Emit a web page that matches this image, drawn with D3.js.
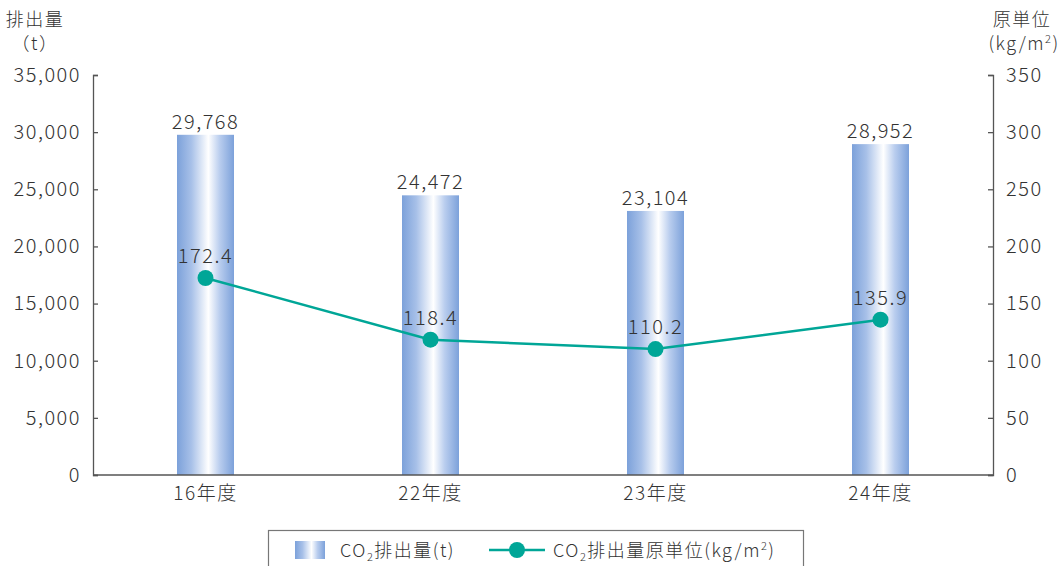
<!DOCTYPE html>
<html>
<head>
<meta charset="utf-8">
<script src="https://cdn.jsdelivr.net/npm/d3@7"></script>
<style>
  html, body { margin: 0; padding: 0; background: #fff; }
  svg text { font-family: "Noto Sans CJK JP", "Noto Sans", sans-serif; font-weight: 300; fill: #333; letter-spacing: 1.5px; }
</style>
</head>
<body>
<svg id="chart" width="1061" height="566"></svg>
<script>
// Fiscal years
const categories = ["16年度", "22年度", "23年度", "24年度"];
// CO2 emissions (t)
const emissions = [29768, 24472, 23104, 28952];
// Emission intensity (kg/m2)
const intensity = [172.4, 118.4, 110.2, 135.9];
const leftTicks = [0, 5000, 10000, 15000, 20000, 25000, 30000, 35000];
const rightTicks = [0, 50, 100, 150, 200, 250, 300, 350];

const svg = d3.select("#chart");
const margin = { left: 93, right: 68, top: 75, bottom: 91 };
const W = 1061, H = 566;
const x0 = margin.left, x1 = W - margin.right;
const y0 = H - margin.bottom, y1 = margin.top;

const x = d3.scaleBand().domain(categories).range([x0, x1]).padding(0);
const yL = d3.scaleLinear().domain([0, 35000]).range([y0, y1]);
const yR = d3.scaleLinear().domain([0, 350]).range([y0, y1]);
const barW = 57;
const teal = "#00a697";
const axisColor = "#555";
const fs = 20;

// Bar gradient: blue edges with a bright highlight right of centre
const defs = svg.append("defs");
const grad = defs.append("linearGradient").attr("id", "barGrad")
  .attr("x1", "0").attr("x2", "1").attr("y1", "0").attr("y2", "0");
grad.append("stop").attr("offset", "0%").attr("stop-color", "#7ca1da");
grad.append("stop").attr("offset", "25%").attr("stop-color", "#a7c0e8");
grad.append("stop").attr("offset", "55%").attr("stop-color", "#ffffff");
grad.append("stop").attr("offset", "75%").attr("stop-color", "#b9cdee");
grad.append("stop").attr("offset", "100%").attr("stop-color", "#7ca1da");

// Bars
svg.append("g").selectAll("rect").data(emissions).join("rect")
  .attr("x", (d, i) => x(categories[i]) + x.bandwidth() / 2 - barW / 2)
  .attr("y", d => yL(d))
  .attr("width", barW)
  .attr("height", d => yL(0) - yL(d))
  .attr("fill", "url(#barGrad)");

// Axes
const fmt = d3.format(",");
const gL = svg.append("g").attr("transform", `translate(${x0},0)`)
  .call(d3.axisLeft(yL).tickValues(leftTicks).tickSize(-5).tickPadding(12).tickFormat(fmt));
const gR = svg.append("g").attr("transform", `translate(${x1},0)`)
  .call(d3.axisRight(yR).tickValues(rightTicks).tickSize(-5).tickPadding(13));
const gB = svg.append("g").attr("transform", `translate(0,${y0})`)
  .call(d3.axisBottom(x).tickSize(0).tickPadding(12));
[gL, gR, gB].forEach(g => {
  g.selectAll("path.domain").attr("stroke", axisColor).attr("stroke-width", 1.3);
  g.selectAll(".tick line").attr("stroke", axisColor).attr("stroke-width", 1.3);
  g.selectAll("text").attr("font-size", fs).attr("fill", "#333")
    .style("font-family", '"Noto Sans CJK JP", sans-serif');
});
gB.selectAll("text").attr("font-size", 19);
gB.selectAll("path.domain").remove();
svg.append("line").attr("x1", x0).attr("x2", x1).attr("y1", y0).attr("y2", y0)
  .attr("stroke", axisColor).attr("stroke-width", 1.3);

// Bar value labels
svg.append("g").selectAll("text").data(emissions).join("text")
  .attr("x", (d, i) => x(categories[i]) + x.bandwidth() / 2)
  .attr("y", d => yL(d) - 6)
  .attr("text-anchor", "middle").attr("font-size", fs)
  .text(d => fmt(d));

// Intensity line
const cx = i => x(categories[i]) + x.bandwidth() / 2;
const line = d3.line().x((d, i) => cx(i)).y(d => yR(d));
svg.append("path").datum(intensity).attr("d", line)
  .attr("fill", "none").attr("stroke", teal).attr("stroke-width", 2.5);
svg.append("g").selectAll("circle").data(intensity).join("circle")
  .attr("cx", (d, i) => cx(i)).attr("cy", d => yR(d)).attr("r", 8)
  .attr("fill", teal);
svg.append("g").selectAll("text").data(intensity).join("text")
  .attr("x", (d, i) => cx(i)).attr("y", d => yR(d) - 15)
  .attr("text-anchor", "middle").attr("font-size", fs)
  .text(d => d.toFixed(1));

// Axis titles
svg.append("text").attr("x", 35).attr("y", 26).attr("text-anchor", "middle")
  .attr("font-size", 18).text("排出量");
svg.append("text").attr("x", 35).attr("y", 50).attr("text-anchor", "middle")
  .attr("font-size", 18).text("（t）");
svg.append("text").attr("x", 1022).attr("y", 26).attr("text-anchor", "middle")
  .attr("font-size", 18).text("原単位");
const rt = svg.append("text").attr("x", 1024).attr("y", 50).attr("text-anchor", "middle")
  .attr("font-size", 18);
rt.append("tspan").text("(kg/m");
rt.append("tspan").attr("font-size", 11).attr("dy", -7).text("2");
rt.append("tspan").attr("dy", 7).text(")");

// Legend
const lg = svg.append("g");
lg.append("rect").attr("x", 268.5).attr("y", 530.5).attr("width", 535).attr("height", 50)
  .attr("fill", "#fff").attr("stroke", "#777").attr("stroke-width", 1.2);
lg.append("rect").attr("x", 295).attr("y", 541).attr("width", 30).attr("height", 18)
  .attr("fill", "url(#barGrad)");
const t1 = lg.append("text").attr("x", 340).attr("y", 557).attr("font-size", 18);
t1.append("tspan").text("CO");
t1.append("tspan").attr("font-size", 11).attr("dy", 4).text("2");
t1.append("tspan").attr("dy", -4).text("排出量(t)");
lg.append("line").attr("x1", 489).attr("x2", 545).attr("y1", 550).attr("y2", 550)
  .attr("stroke", teal).attr("stroke-width", 2.5);
lg.append("circle").attr("cx", 517).attr("cy", 550).attr("r", 8).attr("fill", teal);
const t2 = lg.append("text").attr("x", 553).attr("y", 557).attr("font-size", 18);
t2.append("tspan").text("CO");
t2.append("tspan").attr("font-size", 11).attr("dy", 4).text("2");
t2.append("tspan").attr("dy", -4).text("排出量原単位(kg/m");
t2.append("tspan").attr("font-size", 11).attr("dy", -7).text("2");
t2.append("tspan").attr("dy", 7).text(")");
</script>
</body>
</html>
